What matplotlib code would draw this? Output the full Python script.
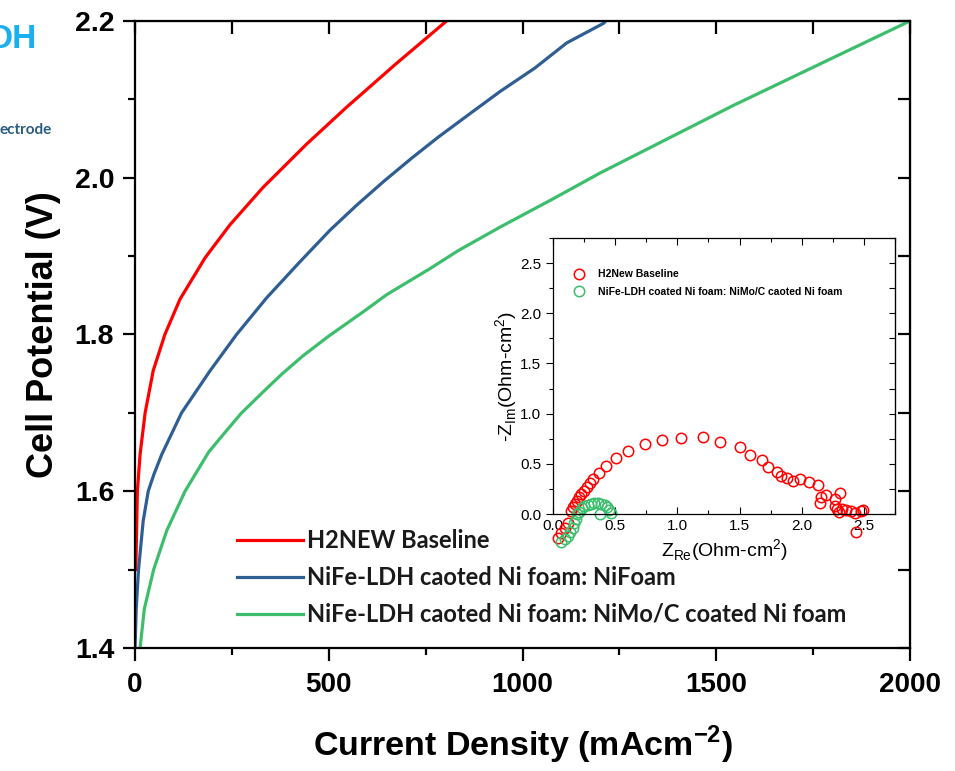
import matplotlib
matplotlib.use("Agg")
import matplotlib.pyplot as plt
from matplotlib.ticker import MultipleLocator

plt.rcParams['font.family'] = ['Liberation Sans', 'DejaVu Sans']
plt.rcParams['mathtext.fontset'] = 'custom'
plt.rcParams['mathtext.rm'] = 'Liberation Sans'
plt.rcParams['mathtext.bf'] = 'Liberation Sans:bold'

# polarization curves: current density (mA/cm2) and cell potential (V)
j_base = [2, 4, 6, 13, 26, 47, 77, 116, 181, 245, 331, 443, 546, 675, 804]
v_base = [1.50, 1.55, 1.60, 1.647, 1.70, 1.754, 1.80, 1.845, 1.898, 1.940, 1.988, 2.043, 2.090, 2.146, 2.200]

j_nifoam = [0, 3, 9, 21, 34, 49, 69, 120, 194, 262, 340, 426, 503, 572, 641, 714, 783, 865, 942, 1032, 1114,
            1209, 1215]
v_nifoam = [1.40, 1.45, 1.50, 1.562, 1.60, 1.622, 1.647, 1.70, 1.754, 1.80, 1.847, 1.893, 1.933, 1.965, 1.995,
            2.025, 2.052, 2.082, 2.110, 2.140, 2.172, 2.197, 2.200]

j_nimo = [13, 24, 48, 82, 129, 190, 232, 275, 331, 380, 434, 500, 589, 650, 761, 834, 942, 1071, 1200, 1543,
          1801, 2000]
v_nimo = [1.40, 1.45, 1.50, 1.55, 1.60, 1.65, 1.675, 1.70, 1.727, 1.75, 1.773, 1.798, 1.829, 1.851, 1.884,
          1.907, 1.937, 1.971, 2.006, 2.092, 2.153, 2.200]

labels = ["H2NEW Baseline",
          "NiFe-LDH caoted Ni foam: NiFoam",
          "NiFe-LDH caoted Ni foam: NiMo/C coated Ni foam"]

# impedance (Nyquist) data, Ohm-cm2
zre_base = [0.041, 0.068, 0.095, 0.122, 0.143, 0.157, 0.173, 0.189, 0.208, 0.227, 0.249, 0.270, 0.297, 0.324,
            0.373, 0.427, 0.508, 0.603, 0.738, 0.873, 1.032, 1.208, 1.346, 1.500, 1.581, 1.684, 1.730, 1.797,
            1.832, 1.878, 1.932, 1.986, 2.062, 2.130, 2.157, 2.149, 2.195, 2.265, 2.305, 2.270, 2.284, 2.297,
            2.324, 2.357, 2.392, 2.432, 2.473, 2.492, 2.433]
zim_base = [-0.237, -0.187, -0.137, -0.087, 0.033, 0.067, 0.100, 0.133, 0.167, 0.200, 0.233, 0.267, 0.307, 0.347,
            0.407, 0.480, 0.557, 0.630, 0.697, 0.740, 0.757, 0.763, 0.717, 0.667, 0.590, 0.540, 0.467, 0.417,
            0.383, 0.357, 0.333, 0.347, 0.323, 0.290, 0.173, 0.113, 0.190, 0.147, 0.207, 0.080, 0.047, 0.023,
            0.047, 0.040, 0.030, 0.013, 0.033, 0.040, -0.177]

zre_nimo = [0.068, 0.095, 0.122, 0.140, 0.157, 0.170, 0.184, 0.195, 0.211, 0.230, 0.251, 0.278, 0.305, 0.332,
            0.359, 0.386, 0.414, 0.432, 0.451, 0.468, 0.378]
zim_nimo = [-0.277, -0.253, -0.220, -0.177, -0.137, -0.093, -0.047, -0.003, 0.023, 0.057, 0.080, 0.093, 0.100,
            0.107, 0.107, 0.100, 0.090, 0.067, 0.040, 0.007, 0.000]

inset_labels = ["H2New Baseline", "NiFe-LDH coated Ni foam: NiMo/C caoted Ni foam"]

red = "#FF0000"
blue = "#2F5E92"
green = "#3DBE6C"

fig = plt.figure(figsize=(9.55, 7.71), dpi=100)
ax = fig.add_axes([0.1414, 0.1595, 0.8115, 0.8133])

ax.plot(j_base, v_base, color=red, lw=2.3, label=labels[0])
ax.plot(j_nifoam, v_nifoam, color=blue, lw=2.3, label=labels[1])
ax.plot(j_nimo, v_nimo, color=green, lw=2.3, label=labels[2])

ax.set_xlim(0, 2000)
ax.set_ylim(1.4, 2.2)
ax.xaxis.set_major_locator(MultipleLocator(500))
ax.xaxis.set_minor_locator(MultipleLocator(250))
ax.yaxis.set_major_locator(MultipleLocator(0.2))
ax.yaxis.set_minor_locator(MultipleLocator(0.1))
ax.yaxis.set_major_formatter(lambda v, p: f"{v:.1f}")
for s in ax.spines.values():
    s.set_linewidth(1.6)
ax.tick_params(which='major', direction='out', length=9, width=1.6, top=False, right=False)
ax.tick_params(which='minor', direction='out', length=5, width=1.6, top=False, right=False)
ax.tick_params(axis='y', labelsize=20.5, pad=6)
ax.tick_params(axis='x', labelsize=20, pad=8)
for t in ax.get_yticklabels() + ax.get_xticklabels():
    t.set_fontweight('bold')

# inward ticks on top and right
top = ax.secondary_xaxis('top')
top.xaxis.set_major_locator(MultipleLocator(250))
top.tick_params(direction='in', length=9, width=1.6, labeltop=False)
right = ax.secondary_yaxis('right')
right.yaxis.set_major_locator(MultipleLocator(0.1))
right.tick_params(direction='in', length=9, width=1.6, labelright=False)

ax.set_xlabel(r"Current Density (mAcm$^{\mathbf{-2}}$)", fontsize=24.5, fontweight='bold', labelpad=19)
ax.set_ylabel("Cell Potential (V)", fontsize=26, fontweight='bold', labelpad=10)

leg = ax.legend(loc='upper left', bbox_to_anchor=(0.1045, 0.223), frameon=False, handlelength=2.8,
                handletextpad=0.15, labelspacing=0.58, prop={'family': 'Lato', 'weight': 'bold', 'size': 17})
for t in leg.get_texts():
    t.set_color('#1a1a1a')

# inset: Nyquist plot
ins = fig.add_axes([0.5791, 0.3333, 0.3581, 0.358])
ins.plot(zre_base, zim_base, 'o', mfc='none', mec=red, ms=7.5, mew=1.1, clip_on=False, label=inset_labels[0])
ins.plot(zre_nimo, zim_nimo, 'o', mfc='none', mec=green, ms=7.5, mew=1.1, clip_on=False, label=inset_labels[1])
ins.set_xlim(0, 2.75)
ins.set_ylim(0, 2.75)
ins.xaxis.set_major_locator(MultipleLocator(0.5))
ins.xaxis.set_minor_locator(MultipleLocator(0.25))
ins.yaxis.set_major_locator(MultipleLocator(0.5))
ins.yaxis.set_minor_locator(MultipleLocator(0.25))
for s in ins.spines.values():
    s.set_linewidth(0.9)
ins.tick_params(which='both', labelsize=11, width=0.8, top=True, right=False)
ins.tick_params(axis='y', which='major', direction='out', length=5)
ins.tick_params(axis='y', which='minor', direction='out', length=3)
ins.tick_params(axis='x', which='major', direction='in', length=5)
ins.tick_params(axis='x', which='minor', direction='in', length=3)
ins_right = ins.secondary_yaxis('right')
ins_right.yaxis.set_major_locator(MultipleLocator(0.25))
ins_right.tick_params(direction='in', length=4, width=0.8, labelright=False)
ins.set_xlabel(r"Z$_{\mathrm{Re}}$(Ohm-cm$^{2}$)", fontsize=14, labelpad=3)
ins.set_ylabel(r"-Z$_{\mathrm{Im}}$(Ohm-cm$^{2}$)", fontsize=14, labelpad=0)
ins.legend(loc='upper left', bbox_to_anchor=(0.018, 0.92), frameon=False, handletextpad=0.8,
           labelspacing=0.68, prop={'weight': 'bold', 'size': 7.5})

# cropped slide text at the left edge
fig.text(-0.012, 0.938, "DH", fontsize=24, fontweight='bold', color='#1AAFEE')
fig.text(0.0, 0.826, "ectrode", fontsize=11, fontweight='bold', color='#2B5B7F', family='Lato')

fig.savefig("out.png", dpi=100)
